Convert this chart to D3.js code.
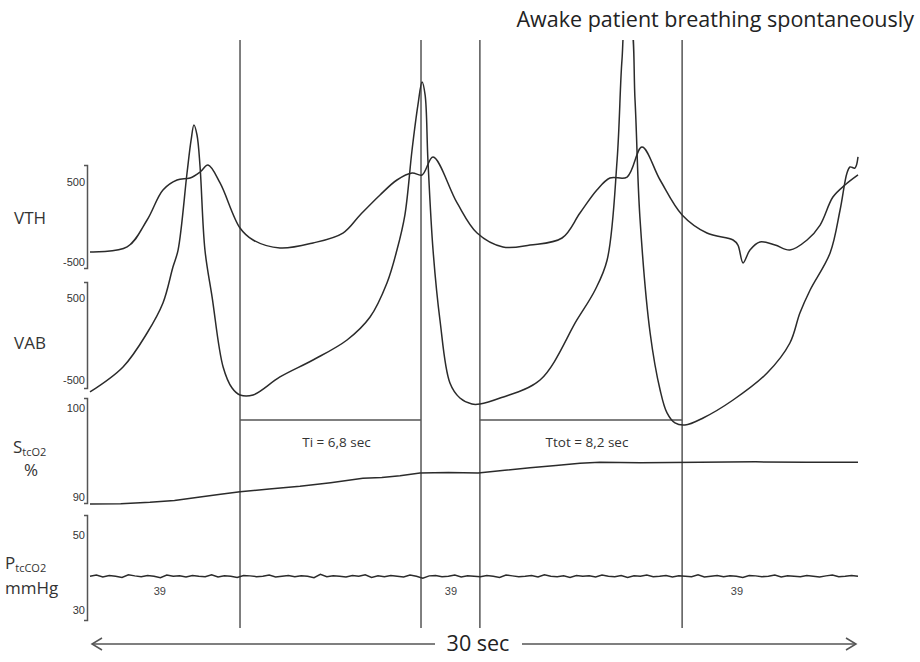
<!DOCTYPE html>
<html><head><meta charset="utf-8">
<script src="https://cdn.jsdelivr.net/npm/d3@7/dist/d3.min.js"></script>
<style>
body{margin:0;background:#fff;}
svg{display:block;font-family:"Open Sans","DejaVu Sans",sans-serif;}
.tick text{font-family:"Liberation Sans Narrow","Liberation Sans",sans-serif;font-size:11px;fill:#333;}
</style></head>
<body>
<svg id="c" width="920" height="662"></svg>
<script>
// ---- data (time in seconds, 0..30) ----
const vthTime = [0,1.45,2.23,2.85,3.40,3.91,4.30,4.61,5.08,5.86,6.37,7.42,8.71,9.88,10.55,11.33,11.99,12.58,12.97,13.40,14.34,15.12,16.13,17.19,18.44,19.14,19.80,20.31,20.98,21.56,22.27,23.13,24.10,25.12,25.31,25.51,25.78,26.17,26.76,27.34,28.01,28.52,29.02,29.49,30];
const vthValues = [-375,-312,25,400,525,550,625,712,488,-75,-225,-325,-262,-138,88,338,525,612,588,812,238,-138,-312,-288,-200,112,400,550,562,938,525,88,-138,-225,-288,-512,-350,-250,-288,-350,-225,-38,312,462,588];

const vabTime = [0,1.29,2.23,2.85,3.24,3.44,3.79,3.95,4.06,4.18,4.30,4.49,4.77,5.20,5.55,5.86,6.37,7.42,8.71,10.04,10.94,11.60,11.99,12.30,12.58,12.81,12.97,13.09,13.20,13.40,13.67,14.06,14.45,14.92,15.23,16.02,17.58,19.02,19.73,20.20,20.59,20.78,20.94,21.09,21.29,21.48,21.88,22.27,22.54,22.85,23.24,23.95,25.12,26.45,27.34,27.73,28.13,28.91,29.30,29.57,29.69,29.88,30];
const vabValues = [-646,-341,73,439,878,1085,2024,2427,2610,2488,2098,1085,512,-341,-598,-683,-683,-463,-256,-12,268,683,1085,1512,2305,2854,3134,2976,2183,1085,232,-537,-720,-793,-793,-720,-500,232,598,963,2183,3402,3890,3890,2915,1488,73,-622,-902,-1024,-1049,-963,-744,-415,-49,317,598,1049,1573,2024,2098,2085,2220];

const spo2Time = [0,1.2,2.34,3.3,4.30,5.1,5.86,7.0,8.20,9.4,10.66,11.4,12.11,12.89,14.0,15.16,16.2,17.19,18.2,19.14,19.92,21.5,23.83,26.0,28.0,30];
const spo2Values = [89.2,89.25,89.4,89.6,90.0,90.3,90.6,90.9,91.2,91.6,92.1,92.2,92.4,92.7,92.75,92.7,93.0,93.3,93.55,93.8,93.9,93.85,93.9,93.95,93.9,93.9];

const pco2Values = [39.0,39.3,38.8,39.2,39.0,38.7,39.4,39.1,38.9,39.2,39.0,38.6,39.3,39.0,39.1,38.8,39.2,39.0,38.9,39.4,38.8,39.1,39.0,38.7,39.2,39.1,38.9,39.0,39.3,38.8,39.0,39.2,38.9,39.1,39.0,38.6,39.5,38.9,39.1,39.0,38.8,39.2,39.0,39.4,38.7,39.1,38.9,39.2,39.0,38.8,39.3,39.0,38.5,39.1,39.2,38.9,39.0,39.3,38.8,39.1,39.0,38.9,39.2,39.0,38.7,39.3,39.1,38.9,39.0,39.2,38.8,39.4,39.0,38.9,39.1,38.7,39.2,39.0,39.1,38.8,39.3,39.0,38.9,39.2,38.7,39.1,39.0,39.3,38.9,39.0,39.2,38.8,39.1,39.0,38.9,39.4,38.8,39.0,39.2,38.9,39.1,39.0,38.7,39.2,39.1,38.9,39.0,39.3,38.8,39.1,39.0,38.9,39.2,39.0,38.8,39.1,39.3,38.9,39.0,39.2,39.0];

const eventTimes = [5.86,12.93,15.23,23.13];
const intervals = [{from:5.86,to:12.93,label:"Ti = 6,8 sec"},{from:15.23,to:23.13,label:"Ttot = 8,2 sec"}];
const pco2Labels = [{t:2.73,label:"39"},{t:14.1,label:"39"},{t:25.27,label:"39"}];
const vthTicks=[500,-500], vabTicks=[500,-500], spo2Ticks=[100,90], pco2Ticks=[50,30];
const title = "Awake patient breathing spontaneously";
const spanLabel = "30 sec";

// ---- drawing ----
const svg = d3.select("#c");
const x = d3.scaleLinear().domain([0,30]).range([90,858]);
const axisX = 87;
const ink = "#2b2b2b", grey="#555";

const yVTH  = d3.scaleLinear([-500,500],[262,182]);
const yVAB  = d3.scaleLinear([-500,500],[380,298]);
const ySpO2 = d3.scaleLinear([90,100],[497,408]);
const yPCO2 = d3.scaleLinear([30,50],[610,535]);

function drawAxis(scale, top, bottom, ticks){
  const s = scale.copy().domain([scale.invert(bottom), scale.invert(top)]).range([bottom, top]);
  const g = svg.append("g").attr("transform",`translate(${axisX},0)`).attr("color","#333")
    .call(d3.axisLeft(s).tickValues(ticks).tickFormat(d=>String(d)).tickSizeInner(0).tickSizeOuter(3).tickPadding(2));
  g.select(".domain").attr("stroke",grey).attr("stroke-width",1.5);
}
drawAxis(yVTH,165,268,vthTicks);
drawAxis(yVAB,282,388,vabTicks);
drawAxis(ySpO2,398,503,spo2Ticks);
drawAxis(yPCO2,515,620,pco2Ticks);

// vertical event lines
svg.selectAll(".ev").data(eventTimes).join("line")
  .attr("x1",d=>x(d)).attr("x2",d=>x(d)).attr("y1",40).attr("y2",628)
  .attr("stroke",grey).attr("stroke-width",1.5);

// interval lines and labels
const intY = 420;
svg.selectAll(".iv").data(intervals).join("line")
  .attr("x1",d=>x(d.from)).attr("x2",d=>x(d.to)).attr("y1",intY).attr("y2",intY)
  .attr("stroke",grey).attr("stroke-width",1.5);
svg.selectAll(".ivt").data(intervals).join("text")
  .attr("x",d=>(x(d.from)+x(d.to))/2 + 6).attr("y",447)
  .attr("text-anchor","middle").attr("font-size",13.5).attr("fill","#333")
  .text(d=>d.label);

// clip
svg.append("clipPath").attr("id","clipTop").append("rect")
  .attr("x",0).attr("y",40).attr("width",920).attr("height",622);

function trace(times, vals, y, curve){
  const pts = times.map((t,i)=>[x(t), y(vals[i])]);
  svg.append("path").attr("d", d3.line().curve(curve)(pts))
    .attr("fill","none").attr("stroke",ink).attr("stroke-width",1.5)
    .attr("clip-path","url(#clipTop)");
}
trace(vthTime, vthValues, yVTH, d3.curveCatmullRom.alpha(0.5));
trace(vabTime, vabValues, yVAB, d3.curveCatmullRom.alpha(0.5));
trace(spo2Time, spo2Values, ySpO2, d3.curveLinear);
const pco2Time = pco2Values.map((v,i)=>i*30/(pco2Values.length-1));
trace(pco2Time, pco2Values, yPCO2, d3.curveLinear);

svg.selectAll(".pl").data(pco2Labels).join("text")
  .attr("x",d=>x(d.t)).attr("y",yPCO2(39)+19).attr("text-anchor","middle")
  .attr("font-size",11).attr("fill","#444").style("font-family","'Liberation Sans Narrow','Liberation Sans',sans-serif")
  .text(d=>d.label);

// row labels
const lab = svg.append("g").attr("fill","#333").attr("font-size",17);
lab.append("text").attr("x",14).attr("y",224).text("VTH");
lab.append("text").attr("x",14).attr("y",349).text("VAB");
const s1 = lab.append("text").attr("x",13).attr("y",453);
s1.append("tspan").text("S");
s1.append("tspan").attr("font-size",11).attr("dy",3).text("tcO2");
lab.append("text").attr("x",31).attr("y",476).attr("text-anchor","middle").text("%");
const p1 = lab.append("text").attr("x",5).attr("y",569);
p1.append("tspan").text("P");
p1.append("tspan").attr("font-size",11).attr("dy",3).text("tcCO2");
lab.append("text").attr("x",5).attr("y",594).text("mmHg");

// title
svg.append("text").attr("x",914).attr("y",27).attr("text-anchor","end")
  .attr("font-size",21.5).attr("fill","#222").text(title);

// bottom span arrow
const ay = 644;
const gA = svg.append("g").attr("stroke",grey).attr("stroke-width",1.5).attr("fill","none");
gA.append("line").attr("x1",x(0)+2).attr("x2",435).attr("y1",ay).attr("y2",ay);
gA.append("line").attr("x1",522).attr("x2",x(30)-2).attr("y1",ay).attr("y2",ay);
gA.append("path").attr("d",`M${x(0)+12},${ay-6}L${x(0)+2},${ay}L${x(0)+12},${ay+6}`);
gA.append("path").attr("d",`M${x(30)-12},${ay-6}L${x(30)-2},${ay}L${x(30)-12},${ay+6}`);
svg.append("text").attr("x",478).attr("y",ay+7).attr("text-anchor","middle")
  .attr("font-size",21.5).attr("fill","#222").text(spanLabel);
</script>
</body></html>
